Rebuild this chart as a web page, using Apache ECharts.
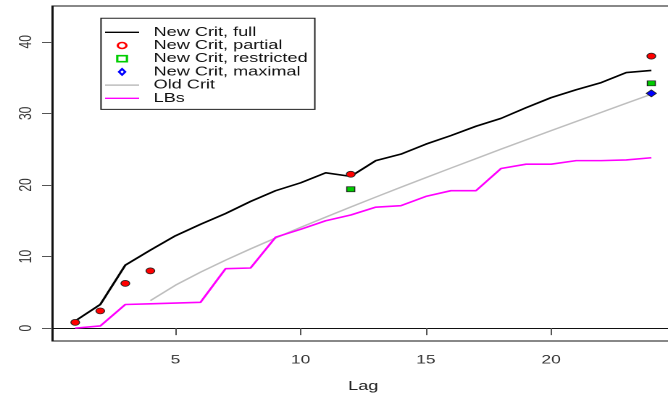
<!DOCTYPE html>
<html><head><meta charset="utf-8">
<script src="https://cdn.jsdelivr.net/npm/echarts@6/dist/echarts.min.js"></script>
<style>
html,body{margin:0;padding:0;background:#fff;overflow:hidden}
#wrap{width:668px;height:398px;overflow:hidden;position:relative;background:#fff}
#c{width:466px;height:398px;transform:scaleX(1.449);transform-origin:0 0}
</style></head>
<body><div id="wrap"><div id="c"></div></div>
<script>
const lags = [1,2,3,4,5,6,7,8,9,10,11,12,13,14,15,16,17,18,19,20,21,22,23,24];
const newCritFull = [1.0,3.3,8.8,10.9,12.9,14.5,16.0,17.7,19.2,20.3,21.7,21.2,23.4,24.3,25.7,26.9,28.2,29.3,30.8,32.2,33.3,34.3,35.7,36.0];
const partialLags = [1,2,3,4,12,24];
const newCritPartial = [0.8,2.4,6.25,8.0,21.5,38.0];
const restrictedLags = [12,24];
const newCritRestricted = [19.4,34.2];
const maximalLags = [24];
const newCritMaximal = [32.8];
const oldCritLags = [4,5,6,7,8,9,10,11,12,13,14,15,16,17,18,19,20,21,22,23,24];
const oldCrit = [3.84,5.99,7.81,9.49,11.07,12.59,14.07,15.51,16.92,18.31,19.68,21.03,22.36,23.68,25.00,26.30,27.59,28.87,30.14,31.41,32.67];
const lbs = [0.0,0.3,3.3,3.4,3.5,3.6,8.3,8.4,12.7,13.8,15.0,15.8,16.9,17.1,18.4,19.2,19.2,22.3,22.9,22.9,23.4,23.4,23.5,23.8];
const xTicks = [5,10,15,20];
const yTicks = [0,10,20,30,40];

const pairs = (xs, ys) => xs.map((x, i) => [x, ys[i]]);
const FONT = 'Liberation Sans';
const LINE_ICON = 'path://M0,0L16,0L16,1L0,1Z';
const SQUARE_ICON = 'path://M0,0L10,0L10,9L0,9Z';
const DIAMOND_ICON = 'path://M5,0L10,7L5,14L0,7Z';

const chart = echarts.init(document.getElementById('c'), null, {renderer: 'canvas', devicePixelRatio: 2});
chart.setOption({
  animation: false,
  backgroundColor: '#ffffff',
  textStyle: {fontFamily: FONT},
  grid: {left: 36, right: 0.6, top: 6, bottom: 57, show: true, borderColor: '#111', borderWidth: 1, backgroundColor: 'transparent'},
  xAxis: {
    type: 'value', min: 0.08, max: 24.92,
    name: 'Lag', nameLocation: 'middle', nameGap: 39,
    nameTextStyle: {fontFamily: FONT, fontSize: 12.5, color: '#222'},
    axisLine: {show: true, lineStyle: {color: '#111', width: 1}},
    axisTick: {show: true, length: 7, lineStyle: {color: '#555'}, customValues: xTicks},
    axisLabel: {fontFamily: FONT, fontSize: 12, color: '#333', margin: 13, customValues: xTicks},
    splitLine: {show: false}
  },
  yAxis: {
    type: 'value', min: -1.8, max: 45.0,
    axisLine: {show: true, lineStyle: {color: '#111', width: 1}},
    axisTick: {show: true, length: 7, lineStyle: {color: '#555'}, customValues: yTicks},
    axisLabel: {fontFamily: FONT, fontSize: 12, color: '#333', rotate: 90, margin: 12, customValues: yTicks},
    splitLine: {show: false}
  },
  legend: {
    orient: 'vertical', left: 69.7, top: 18.3,
    padding: [7.4, 5, 4.5, 2.8],
    borderColor: '#222', borderWidth: 1, backgroundColor: '#fff',
    itemWidth: 23.5, itemHeight: 6, itemGap: 0,
    textStyle: {fontFamily: FONT, fontSize: 12.5, color: '#111', lineHeight: 13.2, padding: [0, 0, 0, 5]},
    data: [
      {name: 'New Crit, full', icon: LINE_ICON, itemStyle: {color: '#000'}},
      {name: 'New Crit, partial', icon: 'circle', itemStyle: {color: '#fff', borderColor: '#ff0000', borderWidth: 1.6}},
      {name: 'New Crit, restricted', icon: SQUARE_ICON, itemStyle: {color: '#fff', borderColor: '#00cd00', borderWidth: 1.6}},
      {name: 'New Crit, maximal', icon: DIAMOND_ICON, itemStyle: {color: '#fff', borderColor: '#0000ff', borderWidth: 1.6}},
      {name: 'Old Crit', icon: LINE_ICON, itemStyle: {color: '#bebebe'}},
      {name: 'LBs', icon: LINE_ICON, itemStyle: {color: '#ff00ff'}}
    ]
  },
  series: [
    {name: 'Old Crit', type: 'line', data: pairs(oldCritLags, oldCrit), symbol: 'none', smooth: false,
     lineStyle: {color: '#bebebe', width: 1.4}, itemStyle: {color: '#bebebe'}, z: 2},
    {name: 'LBs', type: 'line', data: pairs(lags, lbs), symbol: 'none',
     lineStyle: {color: '#ff00ff', width: 1.6}, itemStyle: {color: '#ff00ff'}, z: 3},
    {name: 'New Crit, full', type: 'line', data: pairs(lags, newCritFull), symbol: 'none',
     lineStyle: {color: '#000', width: 1.6}, itemStyle: {color: '#000'}, z: 4},
    {name: 'New Crit, partial', type: 'scatter', data: pairs(partialLags, newCritPartial), symbol: 'circle', symbolSize: 6,
     itemStyle: {color: '#ff0000', borderColor: '#222', borderWidth: 0.7, opacity: 1}, z: 5},
    {name: 'New Crit, restricted', type: 'scatter', data: pairs(restrictedLags, newCritRestricted), symbol: 'rect', symbolSize: [5.5, 5],
     itemStyle: {color: '#00cd00', borderColor: '#222', borderWidth: 0.7, opacity: 1}, z: 5},
    {name: 'New Crit, maximal', type: 'scatter', data: pairs(maximalLags, newCritMaximal), symbol: 'diamond', symbolSize: [7, 7],
     itemStyle: {color: '#0000ff', borderColor: '#222', borderWidth: 0.7, opacity: 1}, z: 5}
  ]
});
</script>
</body></html>
